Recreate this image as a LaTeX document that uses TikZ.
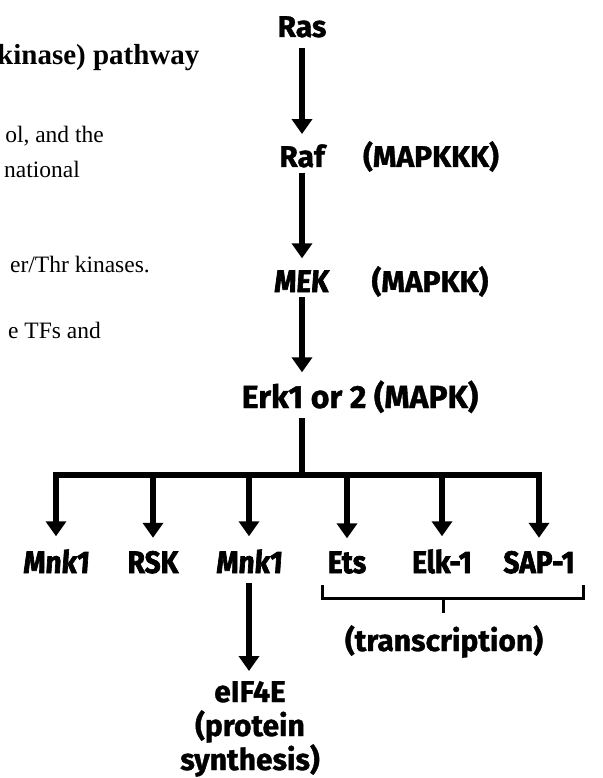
\documentclass[tikz,border=0pt]{standalone}
\usepackage{fontspec}
\setmainfont{Liberation Serif}
\newfontfamily\labf{Fira Sans}
\newfontfamily\labc[FakeStretch=0.9]{Fira Sans}
\usetikzlibrary{arrows.meta}
\begin{document}
\begin{tikzpicture}[x=1pt,y=-1pt,
  lbl/.style={inner sep=0pt, anchor=base, font=\labf\bfseries\addfontfeatures{FakeBold=1.2}\fontsize{30}{34}\selectfont},
  elbl/.style={inner sep=0pt, anchor=base, font=\labf\bfseries\addfontfeatures{FakeBold=1.2}\fontsize{32}{34}\selectfont},
  slbl/.style={inner sep=0pt, anchor=base, font=\labf\bfseries\addfontfeatures{FakeBold=1.2}\fontsize{30}{34}\selectfont},
  clbl/.style={inner sep=0pt, anchor=base, font=\labc\bfseries\addfontfeatures{FakeBold=2.2}\fontsize{31}{34}\selectfont},
  cilbl/.style={inner sep=0pt, anchor=base, font=\labc\bfseries\addfontfeatures{FakeBold=2.2,FakeSlant=0.07}\fontsize{31}{34}\selectfont},
  body/.style={inner sep=0pt, anchor=base east, font=\fontsize{23.5}{26}\selectfont},
  titletext/.style={inner sep=0pt, anchor=base west, font=\bfseries\fontsize{29}{34}\selectfont},
  arr/.style={line width=6pt, -{Triangle[width=20pt,length=15pt]}},
  stemline/.style={line width=6pt},
  brk/.style={line width=3pt}
]
\useasboundingbox (0,0) rectangle (602,778);
\clip (0,0) rectangle (602,778);

% left text fragments
\node[titletext] (t1) at (-3,65) {kinase) pathway};
\node[body] (b1) at (104,143) {ol, and the};
\node[body] (b2) at (80,177) {national};
\node[body] (b3) at (150,272) {er/Thr kinases.};
\node[body] (b4) at (101,338) {e TFs and};

% main column
\node[lbl] (ras) at (302,37) {Ras};
\node[lbl] (raf) at (302,167) {Raf};
\node[lbl] (mapkkk) at (431,167) {(MAPKKK)};
\node[cilbl] (mek) at (301,292) {MEK};
\node[lbl] (mapkk) at (430,292) {(MAPKK)};
\node[elbl] (erk) at (360,408) {Erk1 or 2 (MAPK)};
\coordinate (j) at (302,475);

% bottom row
\node[cilbl] (mnka) at (56,573) {Mnk1};
\node[clbl] (rsk) at (153,573) {RSK};
\node[cilbl] (mnkb) at (249,573) {Mnk1};
\node[clbl] (ets) at (347,573) {Ets};
\node[clbl] (elk) at (442,573) {Elk-1};
\node[clbl] (sap) at (539,573) {SAP-1};

\node[slbl] (eif) at (250,702) {eIF4E};
\node[slbl] (prot) at (250,736) {(protein};
\node[slbl] (syn) at (250,770) {synthesis)};
\node[slbl] (tr) at (444,651) {(transcription)};

% arrows
\draw[arr, shorten <=10pt, shorten >=10pt] (ras.south) -- (ras.south |- raf.north);
\draw[arr, shorten <=5pt, shorten >=12pt] (ras.south |- raf.south) -- (ras.south |- mek.north);
\draw[arr, shorten <=5pt, shorten >=8pt] (ras.south |- mek.south) -- (ras.south |- erk.north);
\draw[stemline, shorten <=5pt] (ras.south |- erk.south) -- (j);
\foreach \n in {mnka,rsk,mnkb,ets,elk,sap}
  \draw[arr, shorten >=13pt] (j) -| (\n.north);
\draw[arr, shorten <=10pt, shorten >=10pt] (mnkb.south) -- (mnkb.south |- eif.north);

% bracket
\coordinate (bl) at (322,585);
\coordinate (br) at (583,585);
\coordinate (tk) at (443,598);
\draw[brk] (bl) |- (tk) -| (br);
\draw[brk, shorten >=12pt] (tk) -- (tk |- tr.north);
\end{tikzpicture}
\end{document}
